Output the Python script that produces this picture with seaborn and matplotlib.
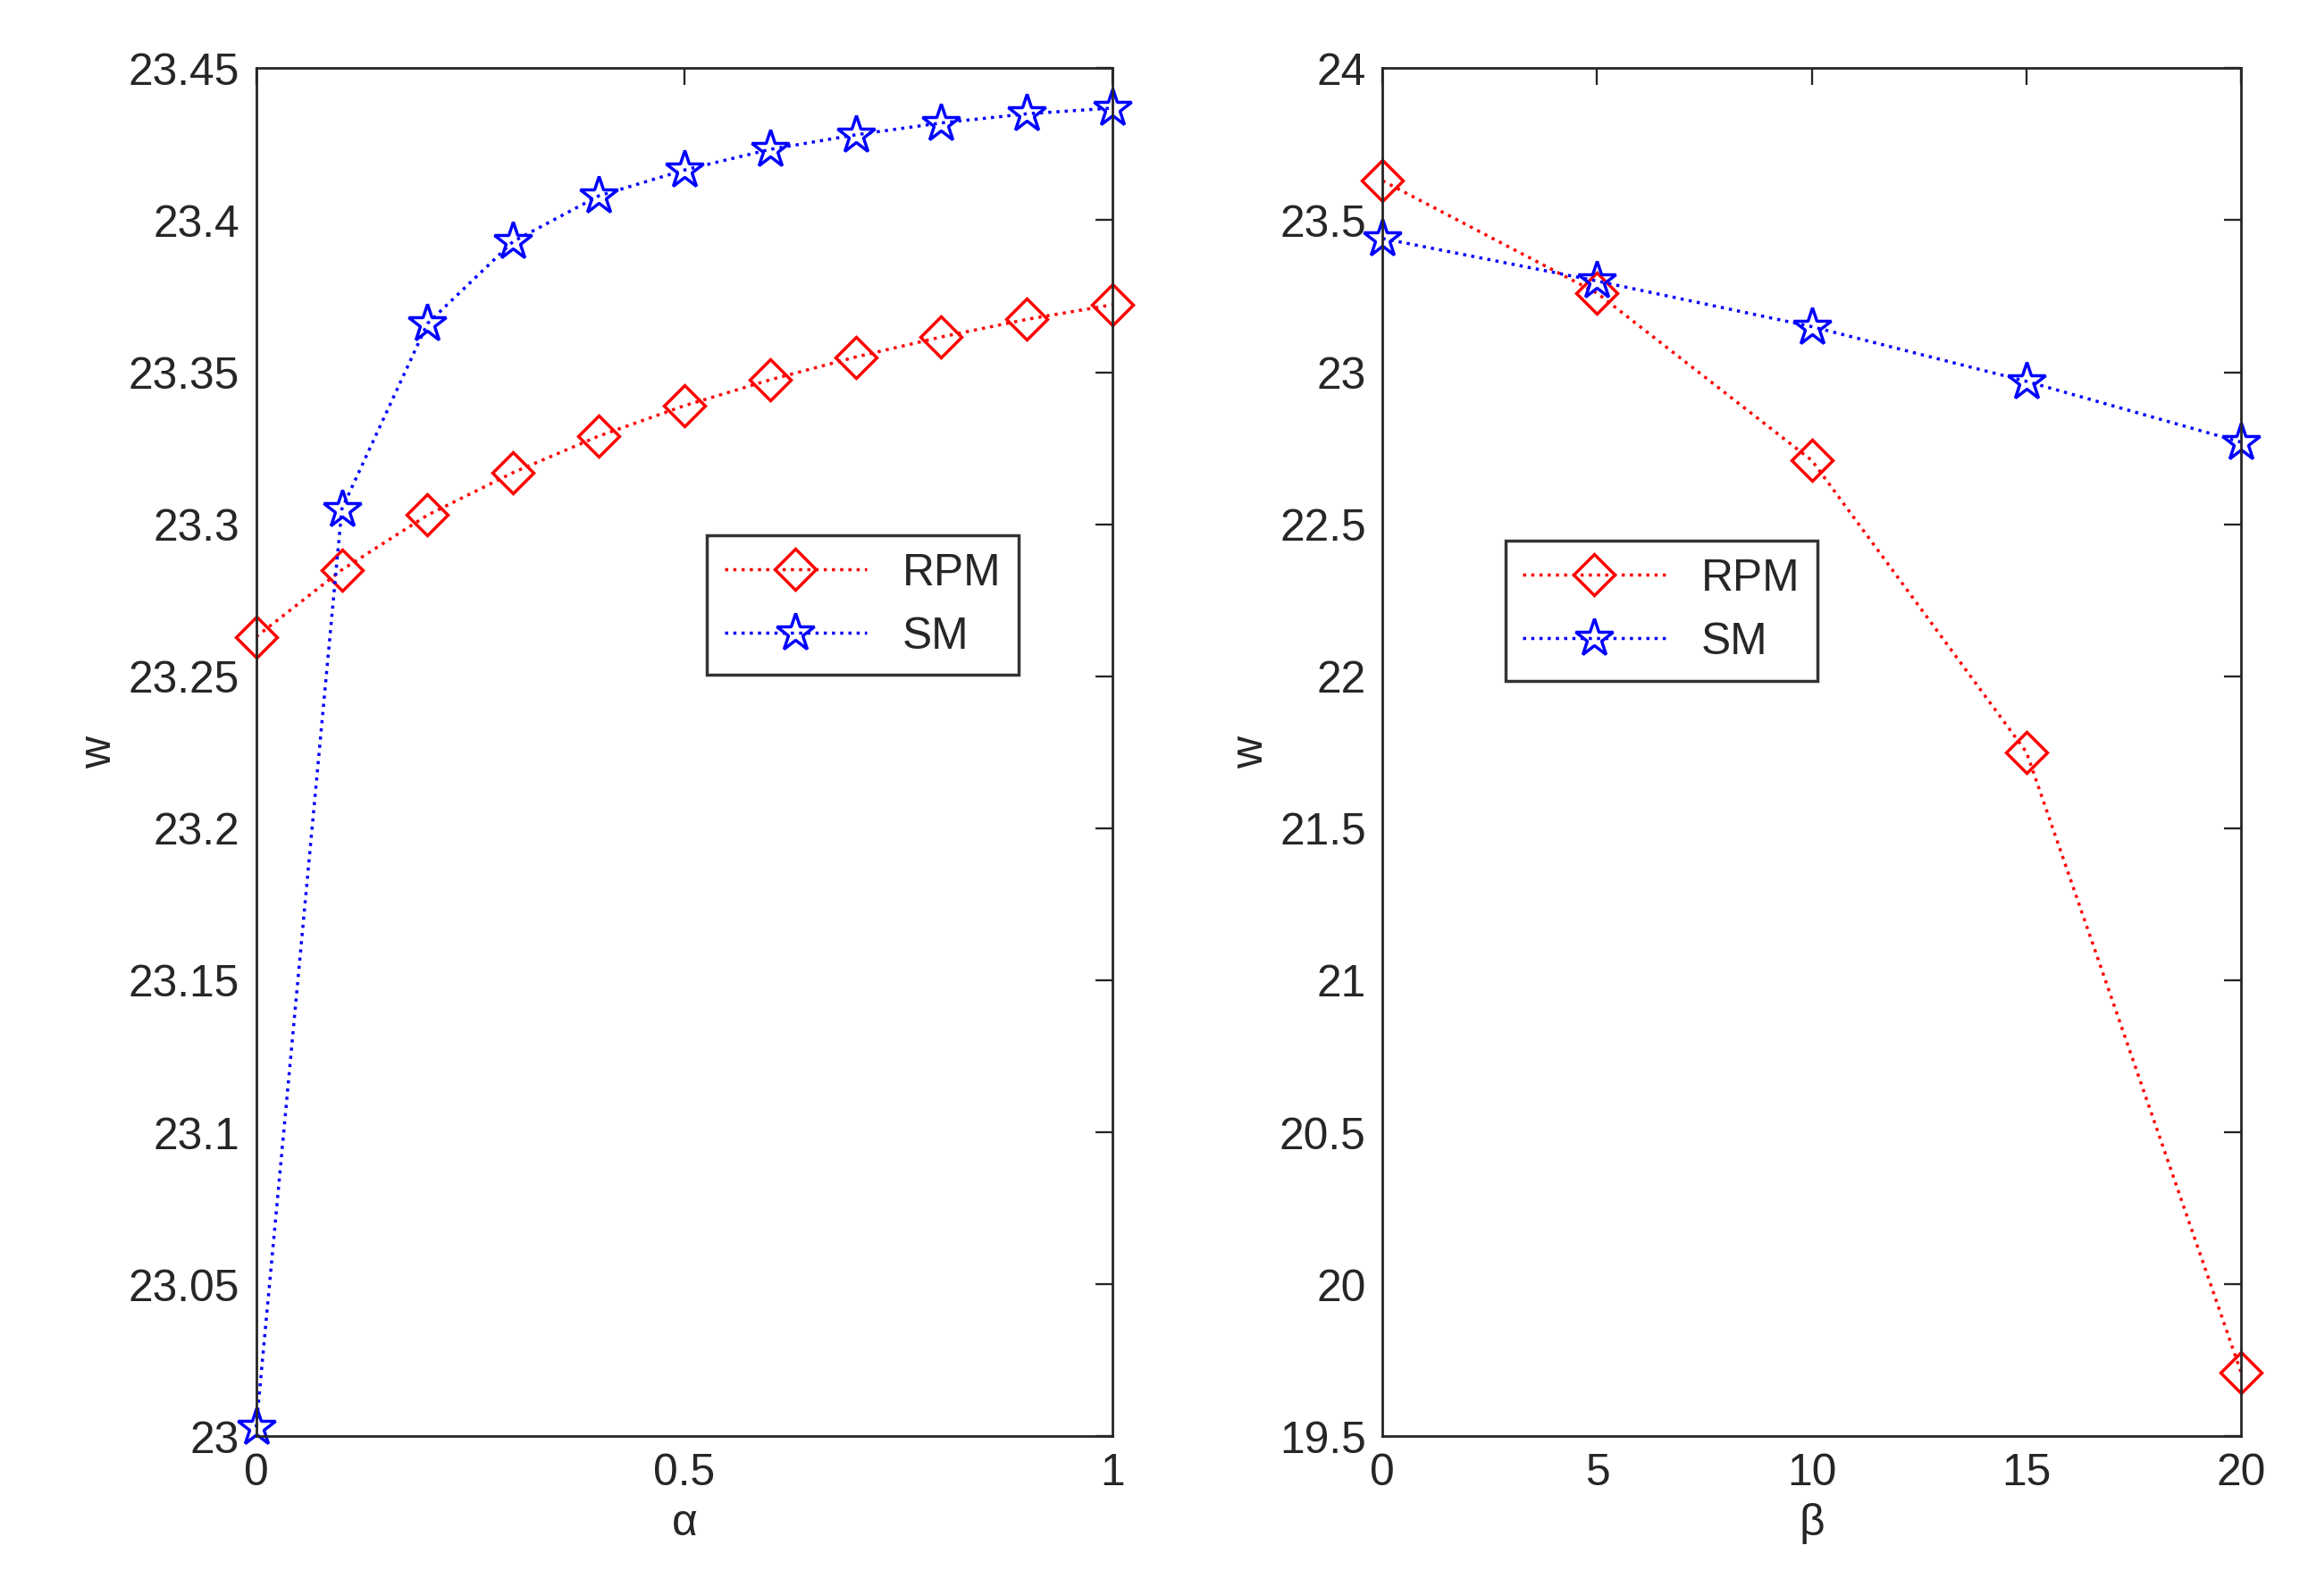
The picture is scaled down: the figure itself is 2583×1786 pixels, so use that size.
import matplotlib
matplotlib.use("Agg")
import matplotlib.pyplot as plt
import seaborn as sns
import numpy as np

alpha = [0, 0.1, 0.2, 0.3, 0.4, 0.5, 0.6, 0.7, 0.8, 0.9, 1.0]
rpm_alpha = [23.263, 23.285, 23.303, 23.317, 23.329, 23.339, 23.3475, 23.355, 23.3616, 23.3674, 23.3722]
sm_alpha = [23.003, 23.305, 23.366, 23.393, 23.408, 23.4165, 23.4233, 23.4281, 23.432, 23.435, 23.4369]
beta = [0, 5, 10, 15, 20]
rpm_beta = [23.63, 23.26, 22.71, 21.75, 19.71]
sm_beta = [23.44, 23.30, 23.15, 22.97, 22.77]

sns.set_style("white")
plt.rcParams['font.family'] = ['Liberation Sans', 'DejaVu Sans']
fs = 21.5

fig = plt.figure(figsize=(15.5, 10.72), dpi=166.65)
ax1 = fig.add_axes([0.111, 0.1, 0.371, 0.857])
ax2 = fig.add_axes([0.599, 0.1, 0.372, 0.857])

def draw(ax, x, r, s):
    sns.lineplot(x=x, y=r, ax=ax, color='red', linestyle=':', marker='D', markersize=14,
                 markerfacecolor='none', markeredgecolor='red', markeredgewidth=1.5, label='RPM',
                 clip_on=False)
    sns.lineplot(x=x, y=s, ax=ax, color='blue', linestyle=':', marker='*', markersize=19,
                 markerfacecolor='none', markeredgecolor='blue', markeredgewidth=1.5, label='SM',
                 clip_on=False)
    ax.tick_params(direction='in', length=8, width=1, top=True, right=True,
                   labelsize=fs, pad=8, colors='#262626')
    for sp in ax.spines.values():
        sp.set_color('#262626'); sp.set_linewidth(1.2)
    ax.set_ylabel('w', fontsize=fs)

draw(ax1, alpha, rpm_alpha, sm_alpha)
ax1.set_xlim(0, 1); ax1.set_ylim(23, 23.45)
ax1.set_xticks([0, 0.5, 1]); ax1.set_xticklabels(['0', '0.5', '1'])
ax1.set_yticks(np.round(np.arange(23, 23.451, 0.05), 2))
ax1.set_yticklabels(['23', '23.05', '23.1', '23.15', '23.2', '23.25', '23.3', '23.35', '23.4', '23.45'])
ax1.set_xlabel('α', fontsize=fs)
ax1.legend(loc='upper left', bbox_to_anchor=(0.5, 0.675), fontsize=fs, frameon=True,
           fancybox=False, edgecolor='black', handlelength=3.2, borderpad=0.4).get_frame().set_linewidth(1.5)

draw(ax2, beta, rpm_beta, sm_beta)
ax2.set_xlim(0, 20); ax2.set_ylim(19.5, 24)
ax2.set_xticks([0, 5, 10, 15, 20])
ax2.set_yticks(np.arange(19.5, 24.01, 0.5))
ax2.set_yticklabels(['19.5', '20', '20.5', '21', '21.5', '22', '22.5', '23', '23.5', '24'])
ax2.set_xlabel('β', fontsize=fs)
ax2.legend(loc='upper left', bbox_to_anchor=(0.117, 0.671), fontsize=fs, frameon=True,
           fancybox=False, edgecolor='black', handlelength=3.2, borderpad=0.4).get_frame().set_linewidth(1.5)

fig.savefig('out.png', dpi=166.65, facecolor='white')
